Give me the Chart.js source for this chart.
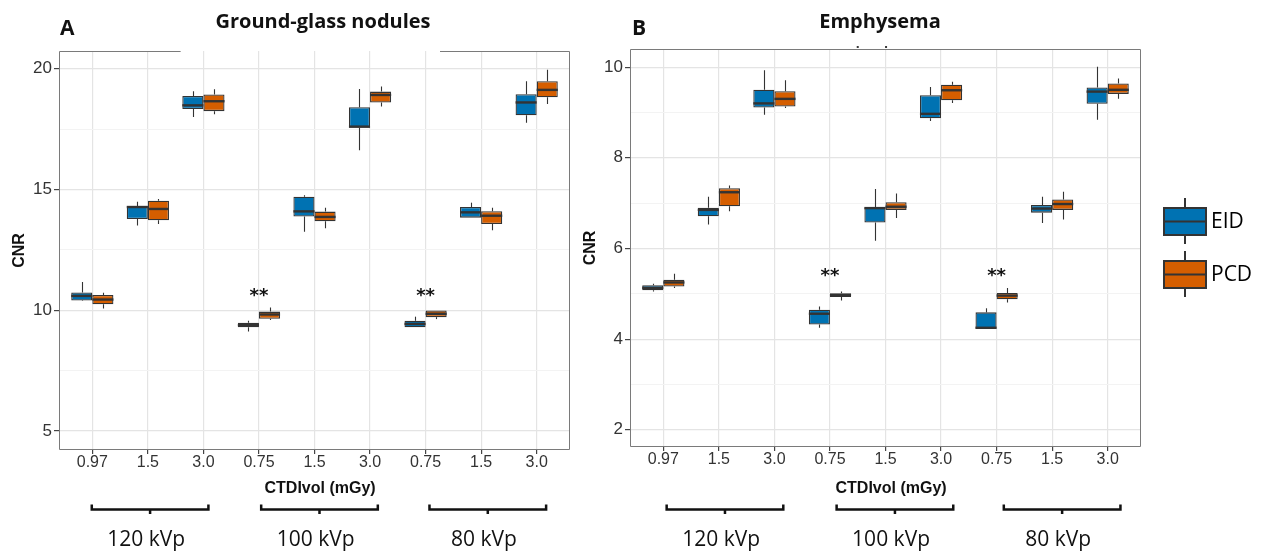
<!DOCTYPE html>
<html>
<head>
<meta charset="utf-8">
<title>CNR – EID vs PCD</title>
<script src="https://cdn.jsdelivr.net/npm/chart.js@4.4.0/dist/chart.umd.min.js"></script>
<style>
    html, body { margin: 0; padding: 0; background: #fff; }
    body { width: 1272px; height: 556px; position: relative; overflow: hidden; }
    canvas { position: absolute; top: 0; }
    #chart-ggn { left: 0; }
    #chart-emph { left: 571px; }
</style>
</head>
<body>
<canvas id="chart-ggn" width="600" height="556"></canvas>
<canvas id="chart-emph" width="701" height="556"></canvas>

<script>
(function () {
    'use strict';

    // CTDIvol categories (mGy), three per tube voltage
    const doseLabels = ['0.97', '1.5', '3.0', '0.75', '1.5', '3.0', '0.75', '1.5', '3.0'];
    const kvpLabels = ['120 kVp', '100 kVp', '80 kVp'];
    const seriesNames = ['EID', 'PCD'];

    // each box: [lower whisker, Q1, median, Q3, upper whisker]
    const ggnEID = [
        [10.38, 10.40, 10.59, 10.73, 11.17],
        [13.50, 13.77, 14.27, 14.31, 14.49],
        [18.00, 18.33, 18.48, 18.87, 19.06],
        [9.12, 9.29, 9.38, 9.48, 9.56],
        [13.25, 13.88, 14.09, 14.70, 14.76],
        [16.62, 17.55, 17.60, 18.40, 19.16],
        [9.29, 9.29, 9.43, 9.56, 9.73],
        [13.83, 13.83, 14.05, 14.27, 14.45],
        [17.76, 18.07, 18.60, 18.94, 19.48]
    ];
    const ggnPCD = [
        [10.07, 10.24, 10.44, 10.63, 10.72],
        [13.57, 13.72, 14.19, 14.53, 14.60],
        [18.11, 18.24, 18.65, 18.93, 19.15],
        [9.59, 9.64, 9.82, 9.94, 10.11],
        [13.39, 13.68, 13.86, 14.08, 14.24],
        [18.43, 18.60, 18.91, 19.05, 19.26],
        [9.63, 9.71, 9.85, 9.99, 9.99],
        [13.31, 13.57, 13.91, 14.10, 14.24],
        [18.54, 18.81, 19.12, 19.48, 19.95]
    ];
    const emphEID = [
        [5.05, 5.08, 5.13, 5.19, 5.22],
        [6.53, 6.71, 6.85, 6.90, 7.14],
        [8.95, 9.11, 9.20, 9.50, 9.93],
        [4.25, 4.32, 4.56, 4.65, 4.72],
        [6.17, 6.57, 6.89, 6.91, 7.31],
        [8.81, 8.87, 8.97, 9.38, 9.56],
        [4.23, 4.23, 4.25, 4.59, 4.68],
        [6.56, 6.79, 6.88, 6.96, 7.14],
        [8.84, 9.19, 9.46, 9.55, 10.01]
    ];
    const emphPCD = [
        [5.13, 5.16, 5.25, 5.31, 5.44],
        [6.82, 6.93, 7.24, 7.33, 7.39],
        [9.10, 9.13, 9.30, 9.47, 9.71],
        [4.85, 4.93, 4.97, 5.01, 5.05],
        [6.67, 6.85, 6.92, 7.02, 7.21],
        [9.21, 9.27, 9.49, 9.61, 9.68],
        [4.81, 4.88, 4.96, 5.02, 5.13],
        [6.64, 6.85, 6.98, 7.08, 7.25],
        [9.30, 9.41, 9.50, 9.64, 9.75]
    ];

    // y axis ticks
    const ggnTicks = [5, 10, 15, 20];
    const ggnMinor = [7.5, 12.5, 17.5];
    const emphTicks = [2, 4, 6, 8, 10];
    const emphMinor = [3, 5, 7, 9];

    // significance marks (category position, CNR level)
    const ggnSig = [[4, 10.76], [7, 10.76]];
    const emphSig = [[4, 5.48], [7, 5.48]];

    const COLORS = ['#0072B2', '#D55E00'];
    const INK = '#333333';
    const TICK_FONT = '"Liberation Sans", Arial, sans-serif';
    const TEXT_FONT = '"Open Sans", sans-serif';

    // whiskers, medians, frame and the annotation text around each panel
    const panelPlugin = {
        id: 'panel',
        beforeDatasetsDraw(chart) {
            const { ctx, scales: { y } } = chart;
            ctx.save();
            ctx.strokeStyle = INK;
            ctx.lineWidth = 1.1;
            chart.data.datasets.forEach((ds, d) => {
                chart.getDatasetMeta(d).data.forEach((bar, i) => {
                    const s = ds.stats[i];
                    const cx = Math.round(bar.x) + 0.5;
                    ctx.beginPath();
                    ctx.moveTo(cx, y.getPixelForValue(s[0]));
                    ctx.lineTo(cx, y.getPixelForValue(s[1]));
                    ctx.moveTo(cx, y.getPixelForValue(s[3]));
                    ctx.lineTo(cx, y.getPixelForValue(s[4]));
                    ctx.stroke();
                });
            });
            ctx.restore();
        },
        afterDatasetsDraw(chart) {
            const { ctx, scales: { y } } = chart;
            ctx.save();
            ctx.strokeStyle = INK;
            ctx.lineWidth = 2.4;
            chart.data.datasets.forEach((ds, d) => {
                chart.getDatasetMeta(d).data.forEach((bar, i) => {
                    const my = y.getPixelForValue(ds.stats[i][2]);
                    ctx.beginPath();
                    ctx.moveTo(bar.x - bar.width / 2, my);
                    ctx.lineTo(bar.x + bar.width / 2, my);
                    ctx.stroke();
                });
            });
            ctx.restore();
        },
        afterDraw(chart, args, o) {
            const { ctx, chartArea: a, scales: { x, y } } = chart;
            ctx.save();

            // panel border (panel A has a gap in its top edge)
            const L = Math.round(a.left) + 0.5, R = Math.round(a.right) - 0.5;
            const T = Math.round(a.top) + 0.5, B = Math.round(a.bottom) - 0.5;
            ctx.strokeStyle = '#7a7a7a';
            ctx.lineWidth = 1;
            ctx.beginPath();
            if (o.topGap) {
                ctx.moveTo(x.getPixelForValue(o.topGap[0]), T);
                ctx.lineTo(L, T);
            } else {
                ctx.moveTo(R, T);
                ctx.lineTo(L, T);
            }
            ctx.lineTo(L, B);
            ctx.lineTo(R, B);
            ctx.lineTo(R, T);
            if (o.topGap) ctx.lineTo(x.getPixelForValue(o.topGap[1]), T);
            ctx.stroke();

            // stray specks just above panel B
            if (o.specks) {
                ctx.fillStyle = '#3a3a3a';
                o.specks.forEach(([sx, sy]) => ctx.fillRect(x.getPixelForValue(sx) - 1, sy, 2, 2));
            }

            ctx.fillStyle = '#111';
            ctx.textBaseline = 'alphabetic';

            // panel title and tag
            ctx.font = `bold 20px ${TEXT_FONT}`;
            ctx.textAlign = 'center';
            ctx.fillText(o.title, o.titleX, 28);
            ctx.font = `bold 21px ${TEXT_FONT}`;
            ctx.textAlign = 'left';
            ctx.fillText(o.tag, o.tagX, 35);

            // significance marks
            ctx.font = `bold 18px "DejaVu Sans", sans-serif`;
            ctx.textAlign = 'center';
            o.sig.forEach(([cat, v]) => {
                ctx.fillText('**', x.getPixelForValue(cat), y.getPixelForValue(v) + 9);
            });

            // x axis title
            ctx.font = `bold 16px ${TICK_FONT}`;
            ctx.textBaseline = 'middle';
            ctx.fillText('CTDIvol (mGy)', x.getPixelForValue(5.1), 489);

            // kVp brackets
            ctx.strokeStyle = '#111';
            ctx.lineWidth = 2.5;
            ctx.lineJoin = 'miter';
            ctx.font = `21px ${TEXT_FONT}`;
            ctx.textBaseline = 'alphabetic';
            kvpLabels.forEach((lab, g) => {
                const start = g * 3 + 1 + o.bracketShift[g];
                const x1 = x.getPixelForValue(start);
                const x2 = x.getPixelForValue(start + 2.1);
                const mid = (x1 + x2) / 2;
                ctx.beginPath();
                ctx.moveTo(x1, 504.5);
                ctx.lineTo(x1, 509.5);
                ctx.lineTo(x2, 509.5);
                ctx.lineTo(x2, 504.5);
                ctx.moveTo(mid, 509.5);
                ctx.lineTo(mid, 514);
                ctx.stroke();
                ctx.fillText(lab, x.getPixelForValue(start + 0.98), 545.5);
            });

            // legend
            if (o.legendX != null) {
                chart.data.datasets.forEach((ds, d) => {
                    const top = 208 + d * 53, h = 27, w = 42, lx = o.legendX;
                    const cx = lx + w / 2;
                    ctx.strokeStyle = INK;
                    ctx.lineWidth = 2;
                    ctx.beginPath();
                    ctx.moveTo(cx, top - 10);
                    ctx.lineTo(cx, top + h + 9);
                    ctx.stroke();
                    ctx.fillStyle = ds.backgroundColor;
                    ctx.fillRect(lx, top, w, h);
                    ctx.strokeRect(lx, top, w, h);
                    ctx.beginPath();
                    ctx.moveTo(lx, top + h / 2);
                    ctx.lineTo(lx + w, top + h / 2);
                    ctx.stroke();
                    ctx.fillStyle = '#000';
                    ctx.font = `21px ${TEXT_FONT}`;
                    ctx.textAlign = 'left';
                    ctx.textBaseline = 'middle';
                    ctx.fillText(ds.label, lx + w + 5, top + h / 2 + 1);
                });
            }
            ctx.restore();
        }
    };

    function makePanel(id, cfg) {
        const major = cfg.major, grid = cfg.major.concat(cfg.minor).sort((p, q) => p - q);
        const boxes = (stats) => stats.map((s, i) => ({ x: i + 1, y: [s[1], s[3]] }));

        return new Chart(document.getElementById(id), {
            type: 'bar',
            data: {
                datasets: [cfg.eid, cfg.pcd].map((stats, d) => ({
                    label: seriesNames[d],
                    data: boxes(stats),
                    stats: stats,
                    backgroundColor: COLORS[d],
                    borderColor: INK,
                    borderWidth: 1.3,
                    borderSkipped: false,
                    barPercentage: 1,
                    categoryPercentage: 0.76
                }))
            },
            options: {
                responsive: false,
                animation: false,
                devicePixelRatio: 1,
                layout: { padding: { top: cfg.top, right: cfg.right, left: 0, bottom: 0 } },
                plugins: {
                    legend: { display: false },
                    tooltip: { enabled: false },
                    panel: cfg.panel
                },
                scales: {
                    x: {
                        type: 'linear',
                        min: 0.4,
                        max: 9.6,
                        offset: false,
                        afterBuildTicks: s => { s.ticks = doseLabels.map((_, i) => ({ value: i + 1 })); },
                        afterFit: s => { s.height = cfg.xHeight; },
                        ticks: {
                            callback: v => doseLabels[v - 1],
                            font: { family: TICK_FONT, size: 16, lineHeight: 1 },
                            color: '#333',
                            padding: 1,
                            maxRotation: 0,
                            autoSkip: false
                        },
                        grid: { offset: false, color: '#e4e4e4', lineWidth: 1.2, tickColor: '#444', tickLength: 4 },
                        border: { display: false }
                    },
                    y: {
                        min: cfg.min,
                        max: cfg.max,
                        afterBuildTicks: s => { s.ticks = grid.map(v => ({ value: v })); },
                        afterFit: s => { s.width = cfg.yWidth; },
                        ticks: {
                            callback: v => major.includes(v) ? String(v) : '',
                            font: { family: TICK_FONT, size: 17 },
                            color: '#333',
                            padding: 2
                        },
                        grid: {
                            color: c => major.includes(c.tick.value) ? '#e4e4e4' : '#f3f3f3',
                            lineWidth: c => major.includes(c.tick.value) ? 1.2 : 1,
                            tickColor: c => major.includes(c.tick.value) ? '#444' : 'rgba(0,0,0,0)',
                            tickLength: 5
                        },
                        border: { display: false },
                        title: {
                            display: true,
                            text: 'CNR',
                            color: '#111',
                            font: { family: TICK_FONT, size: 16, weight: 'bold' },
                            padding: { top: 10, bottom: 0 }
                        }
                    }
                }
            },
            plugins: [panelPlugin]
        });
    }

    function init() {
        makePanel('chart-ggn', {
            eid: ggnEID, pcd: ggnPCD,
            major: ggnTicks, minor: ggnMinor,
            min: 4.21, max: 20.73,
            top: 51, right: 30, yWidth: 59, xHeight: 106,
            panel: {
                title: 'Ground-glass nodules', titleX: 323, tag: 'A', tagX: 60,
                sig: ggnSig, topGap: [2.59, 7.26], bracketShift: [-0.01, 0.04, 0.07]
            }
        });
        makePanel('chart-emph', {
            eid: emphEID, pcd: emphPCD,
            major: emphTicks, minor: emphMinor,
            min: 1.62, max: 10.4,
            top: 49, right: 131, yWidth: 59, xHeight: 109,
            panel: {
                title: 'Emphysema', titleX: 309, tag: 'B', tagX: 61,
                sig: emphSig, legendX: 593, bracketShift: [0.06, 0.12, 0.13],
                specks: [[4.5, 46], [5.01, 46]]
            }
        });
    }

    document.readyState === 'loading' ? document.addEventListener('DOMContentLoaded', init) : init();
})();
</script>
</body>
</html>
